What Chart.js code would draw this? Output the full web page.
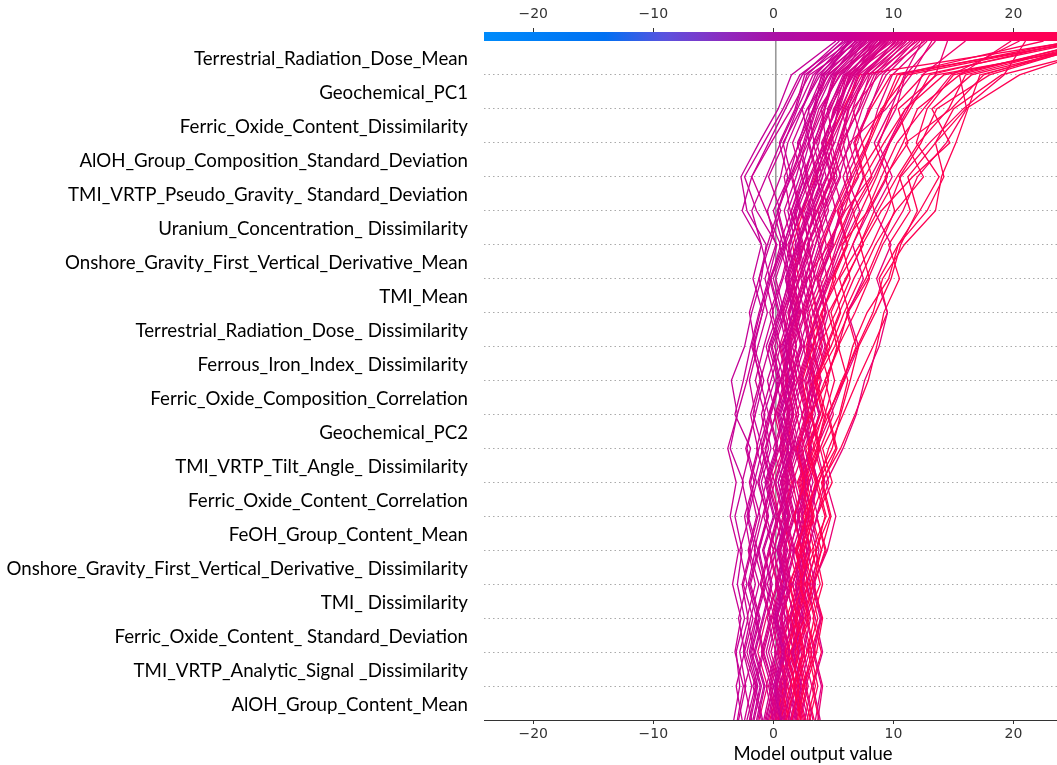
<!DOCTYPE html>
<html>
<head>
<meta charset="utf-8">
<script src="https://cdn.jsdelivr.net/npm/chart.js@4.4.1/dist/chart.umd.min.js"></script>
<style>
  html, body { margin: 0; padding: 0; background: #fff; overflow: hidden; }
  #wrap { width: 1057px; height: 765px; overflow: hidden; }
</style>
</head>
<body>
<!-- the original axis runs past the right edge of the picture, so the canvas is wider and cropped -->
<div id="wrap"><canvas id="chart" width="1142" height="765"></canvas></div>
<script>
// features, top row first (as shown)
const featureNames = [
  'Terrestrial_Radiation_Dose_Mean',
  'Geochemical_PC1',
  'Ferric_Oxide_Content_Dissimilarity',
  'AlOH_Group_Composition_Standard_Deviation',
  'TMI_VRTP_Pseudo_Gravity_ Standard_Deviation',
  'Uranium_Concentration_ Dissimilarity',
  'Onshore_Gravity_First_Vertical_Derivative_Mean',
  'TMI_Mean',
  'Terrestrial_Radiation_Dose_ Dissimilarity',
  'Ferrous_Iron_Index_ Dissimilarity',
  'Ferric_Oxide_Composition_Correlation',
  'Geochemical_PC2',
  'TMI_VRTP_Tilt_Angle_ Dissimilarity',
  'Ferric_Oxide_Content_Correlation',
  'FeOH_Group_Content_Mean',
  'Onshore_Gravity_First_Vertical_Derivative_ Dissimilarity',
  'TMI_ Dissimilarity',
  'Ferric_Oxide_Content_ Standard_Deviation',
  'TMI_VRTP_Analytic_Signal _Dissimilarity',
  'AlOH_Group_Content_Mean'
];

const baseValue = 0.2;
const axisTicks = [-20, -10, 0, 10, 20];

// cumulative model output at each feature boundary, bottom (0) to top (20)
const decisionPaths = [
  [2.0, 2.6, 1.8, 2.9, 2.2, 3.1, 2.5, 3.6, 2.9, 4.2, 3.5, 4.8, 5.9, 7.2, 8.5, 10.2, 12.5, 11.0, 14.8, 17.5, 27.0],
  [-3.3, -2.8, -3.1, -2.4, -3.0, -2.6, -3.2, -2.5, -3.6, -3.0, -3.5, -2.4, -1.8, -1.0, -0.6, -2.2, -2.7, -1.2, 0.4, 1.5, 5.2],
  [-0.8, -0.2, -1.0, -0.3, -1.1, -0.4, 0.3, -0.5, 0.4, -0.3, 0.6, 1.3, 0.7, 1.5, 2.3, 1.4, 0.9, 2.2, 3.4, 4.5, 8.0],
  [-3.0, -2.5, -3.2, -2.7, -3.4, -2.9, -3.6, -3.1, -3.8, -3.0, -2.2, -1.5, -2.0, -1.2, -0.5, 0.4, 1.2, 0.5, 1.8, 2.6, 6.5],
  [3.1, 2.4, 3.5, 2.8, 3.9, 3.2, 4.4, 3.7, 5.2, 4.5, 5.9, 6.6, 7.8, 9.6, 10.4, 12.8, 14.2, 13.5, 16.0, 20.5, 29.0],
  [0.0, -0.6, 0.2, -0.5, 0.4, -0.3, 0.5, 1.2, 0.5, 1.3, 0.7, 1.6, 2.3, 1.6, 2.6, 3.5, 2.7, 3.8, 4.3, 5.2, 9.0],
  [3.7, 4.1, 3.4, 4.0, 3.3, 4.5, 5.2, 4.4, 5.8, 6.9, 7.6, 8.8, 9.5, 8.6, 9.8, 8.4, 9.9, 8.7, 10.2, 11.0, 13.5],
  [1.1, 1.8, 1.0, 2.0, 1.3, 2.4, 3.0, 2.3, 3.3, 4.1, 3.4, 4.7, 4.0, 5.4, 6.6, 7.8, 9.0, 10.3, 12.5, 14.8, 20.5],
  [-2.6, -3.1, -2.4, -2.9, -2.2, -2.8, -2.0, -2.6, -1.9, -3.2, -2.5, -1.9, -1.2, -0.4, 0.3, -1.4, -2.4, -0.8, 0.8, 2.2, 6.0],
  [0.6, 0.0, 0.8, 0.1, 0.9, 0.3, 1.0, 0.4, 1.2, 0.5, 1.4, 0.8, 1.6, 1.0, 1.9, 1.2, 2.2, 3.0, 2.4, 3.5, 6.1],
  [0.7, 0.1, 0.9, 0.2, 1.0, 0.4, 1.2, 0.6, 1.5, 0.8, 1.7, 1.1, 2.0, 2.8, 2.1, 3.2, 4.1, 3.3, 4.6, 5.8, 7.5],
  [1.5, 2.2, 1.4, 2.6, 3.3, 2.5, 3.4, 2.8, 3.8, 3.1, 4.5, 5.3, 4.6, 6.1, 7.4, 9.0, 11.6, 14.7, 13.2, 16.5, 28.0],
  [-0.7, 0.0, -0.9, -0.2, -1.0, -0.3, 0.4, -0.4, 0.5, 1.2, 0.6, 1.5, 0.8, 1.9, 1.2, 2.4, 3.3, 4.2, 5.1, 6.0, 9.1],
  [1.4, 0.9, 1.7, 1.0, 0.4, 1.2, 0.5, 1.3, 0.7, 1.6, 1.0, 1.9, 1.3, 2.2, 3.0, 2.4, 3.6, 4.4, 5.0, 6.7, 8.6],
  [-1.8, -2.4, -1.6, -2.2, -1.5, -2.1, -1.4, -2.0, -1.3, -1.9, -1.1, -1.7, -0.9, -0.2, 0.6, -0.6, -1.8, -0.2, 1.5, 3.0, 7.2],
  [1.1, 0.5, 1.3, 0.6, 1.4, 0.8, 1.6, 0.9, 1.7, 1.1, 2.0, 1.3, 2.2, 1.6, 2.6, 3.4, 4.5, 5.6, 6.2, 7.1, 10.7],
  [0.6, 1.4, 2.1, 1.5, 2.4, 1.9, 2.8, 3.5, 2.7, 3.9, 4.6, 3.8, 5.2, 6.4, 5.7, 7.9, 9.4, 10.8, 12.0, 15.5, 26.5],
  [-1.4, -0.8, -1.6, -0.9, -0.2, -0.9, 0.0, -0.7, 0.2, 0.9, 0.2, 1.1, 0.5, 1.4, 0.8, 1.9, 2.8, 2.0, 3.3, 4.2, 6.4],
  [2.0, 1.4, 2.2, 1.5, 2.4, 3.1, 2.4, 3.3, 2.6, 3.5, 2.9, 3.8, 4.6, 3.9, 5.0, 4.2, 5.5, 6.3, 5.7, 6.8, 9.3],
  [0.3, 1.0, 0.4, 1.2, 0.6, 1.4, 2.1, 1.3, 2.2, 1.5, 2.5, 1.8, 2.7, 3.5, 2.8, 4.0, 5.3, 4.6, 5.9, 7.4, 10.2],
  [2.4, 1.7, 2.6, 2.0, 2.9, 2.3, 3.2, 2.5, 3.6, 4.3, 5.1, 4.4, 5.5, 6.7, 8.2, 9.5, 10.6, 13.0, 15.8, 19.2, 21.0],
  [-1.3, -0.7, -1.5, -0.8, -0.1, -0.8, 0.1, -0.6, 0.3, -0.4, 0.5, -0.2, 0.7, 0.0, 1.0, 0.3, 1.5, 0.8, 2.3, 3.9, 6.3],
  [2.6, 1.9, 2.8, 3.4, 2.7, 3.6, 4.3, 3.5, 4.9, 5.6, 6.4, 7.1, 8.5, 9.8, 10.6, 12.0, 11.2, 13.5, 15.0, 19.0, 30.0],
  [-0.2, 0.4, -0.4, 0.3, -0.5, 0.2, -0.6, 0.1, -0.7, 0.2, 0.9, 0.1, 1.0, 1.8, 1.0, 2.0, 3.1, 4.4, 4.0, 5.5, 8.3],
  [0.0, 0.7, 0.1, 0.8, 0.2, 1.0, 0.4, 1.1, 0.6, 1.4, 0.8, 1.6, 1.0, 1.9, 1.3, 2.3, 1.6, 2.9, 3.8, 5.6, 8.7],
  [1.9, 1.2, 2.0, 1.4, 2.2, 1.6, 2.5, 1.8, 1.2, 2.1, 1.5, 2.4, 1.7, 2.7, 3.5, 4.3, 3.6, 4.8, 5.4, 6.3, 9.8],
  [3.8, 3.2, 4.0, 3.3, 4.1, 3.5, 4.7, 4.0, 5.6, 6.8, 7.9, 8.6, 9.2, 10.5, 9.6, 11.4, 10.5, 12.3, 13.6, 18.0, 27.5],
  [2.6, 3.2, 2.5, 3.1, 2.4, 3.0, 2.3, 2.9, 2.2, 2.8, 3.6, 4.4, 3.7, 4.6, 5.5, 6.6, 5.8, 7.0, 7.9, 9.4, 12.2],
  [-2.2, -1.5, -2.4, -1.7, -2.5, -1.8, -1.1, -1.9, -1.2, -0.4, -1.1, -0.3, 0.5, -0.2, 0.9, 1.7, 2.6, 3.4, 2.9, 4.1, 6.8],
  [0.8, 1.5, 0.9, 1.7, 1.1, 0.5, 1.3, 0.6, 1.5, 0.8, 1.8, 1.2, 2.1, 1.5, 2.5, 3.6, 4.8, 5.7, 6.3, 7.9, 11.4],
  [-2.0, -1.4, -2.2, -1.5, -0.8, -1.6, -0.9, -0.2, -1.0, -0.3, 0.4, -0.4, 0.6, 1.3, 0.5, 1.5, 2.4, 1.6, 2.8, 4.6, 7.7],
  [1.0, 1.8, 1.2, 2.0, 1.4, 2.3, 1.7, 2.6, 2.0, 3.0, 2.4, 3.3, 4.1, 5.0, 6.2, 5.4, 7.0, 8.8, 9.9, 12.5, 26.0],
  [2.7, 2.0, 2.8, 2.2, 1.6, 2.4, 1.8, 2.7, 2.0, 2.9, 2.2, 3.1, 2.5, 3.5, 4.4, 3.7, 5.0, 5.9, 6.8, 8.2, 12.0],
  [1.6, 2.3, 1.7, 2.5, 1.8, 2.6, 2.0, 2.8, 2.1, 3.0, 2.3, 3.2, 2.6, 3.5, 2.9, 3.9, 4.8, 4.0, 5.3, 6.4, 8.4],
  [0.4, 1.1, 0.5, 1.4, 2.1, 1.3, 2.2, 1.6, 2.6, 1.9, 2.9, 3.6, 3.0, 4.2, 5.6, 6.8, 8.4, 9.7, 11.2, 12.4, 16.0],
  [-1.0, -1.7, -0.9, -1.5, -0.7, -1.3, -0.5, -1.2, -0.4, -1.0, -0.2, 0.6, -0.1, 0.8, 1.6, 0.9, 1.9, 2.7, 3.6, 4.9, 7.0],
  [0.3, -0.3, 0.5, -0.2, 0.6, 0.0, 0.8, 0.1, 0.9, 0.3, 1.1, 0.5, 1.4, 2.1, 3.2, 4.4, 5.6, 4.8, 6.1, 7.6, 11.0],
  [0.5, -0.2, 0.7, 0.0, 0.8, 1.5, 0.9, 1.7, 1.1, 1.9, 1.3, 2.2, 3.0, 2.3, 3.3, 2.6, 3.9, 4.7, 5.4, 6.1, 8.9],
  [2.3, 1.6, 2.5, 1.8, 2.9, 2.2, 3.3, 2.6, 3.7, 4.4, 3.6, 5.1, 6.3, 5.5, 7.2, 8.4, 7.6, 9.2, 11.0, 14.2, 28.5],
  [3.3, 2.6, 3.4, 2.7, 3.5, 2.8, 3.7, 3.0, 3.8, 3.1, 4.0, 3.3, 4.3, 3.6, 4.7, 5.8, 5.0, 6.5, 7.4, 8.6, 11.6],
  [1.7, 2.4, 1.6, 2.5, 1.9, 2.8, 2.1, 3.0, 2.3, 3.2, 2.6, 3.5, 2.8, 3.9, 4.8, 5.6, 6.5, 5.8, 7.1, 8.0, 10.8],
  [-0.6, 0.0, -0.8, -0.1, 0.7, 0.0, 0.9, 0.2, 1.0, 0.4, 1.3, 0.7, 1.7, 1.0, 2.0, 2.9, 3.7, 3.0, 4.2, 5.0, 7.8],
  [-0.5, 0.2, -0.6, 0.1, -0.7, 0.0, -0.8, -0.1, -0.9, -0.2, 0.6, -0.1, 0.9, 0.2, 1.1, 0.4, 1.4, 2.5, 3.3, 4.8, 7.4],
  [0.2, 0.9, 1.7, 1.1, 2.0, 2.8, 2.1, 3.0, 3.9, 3.2, 4.3, 5.5, 4.8, 6.0, 7.5, 6.6, 8.2, 7.4, 9.0, 11.2, 25.5],
  [2.2, 2.9, 2.3, 1.7, 2.5, 1.9, 2.8, 2.1, 3.1, 2.4, 3.4, 4.3, 3.6, 4.7, 5.8, 7.2, 6.1, 7.4, 6.6, 8.8, 12.6],
  [1.9, 2.6, 2.0, 2.7, 2.1, 2.9, 3.6, 4.3, 3.6, 4.8, 5.9, 7.1, 6.2, 7.5, 6.6, 8.0, 9.5, 8.4, 9.8, 10.9, 12.4],
  [3.0, 3.7, 3.1, 4.0, 3.4, 4.3, 3.6, 4.6, 3.9, 5.0, 4.3, 5.4, 6.2, 7.9, 9.1, 10.8, 12.0, 14.4, 16.1, 15.5, 19.8],
  [-2.9, -2.3, -2.8, -2.1, -2.6, -1.9, -2.4, -1.6, -2.3, -1.5, -2.0, -1.3, -0.5, -1.2, -0.3, 0.6, -0.4, 0.9, 2.0, 3.3, 6.6],
  [0.8, 0.2, 1.0, 0.3, 1.1, 0.5, 1.3, 0.6, 1.5, 0.8, 1.7, 1.0, 1.9, 1.2, 2.2, 1.5, 2.6, 3.4, 4.3, 5.1, 8.2],
  [0.1, 0.8, 1.4, 0.7, 1.5, 0.9, 1.8, 1.1, 2.0, 1.3, 2.3, 1.6, 2.6, 1.9, 2.9, 4.2, 5.1, 4.3, 5.6, 6.9, 9.5],
  [1.8, 2.5, 3.2, 2.4, 3.3, 4.0, 3.2, 4.2, 3.4, 4.6, 5.8, 6.9, 6.1, 7.7, 8.9, 10.1, 9.3, 11.2, 10.4, 13.6, 29.5],
  [1.0, 0.3, 1.1, 0.5, 1.3, 0.6, 1.4, 0.8, 1.6, 2.4, 1.7, 2.6, 1.9, 2.9, 3.8, 3.1, 4.4, 3.6, 4.8, 5.9, 8.1],
  [-1.7, -1.1, -1.9, -1.2, -2.0, -1.3, -2.1, -1.4, -2.2, -1.5, -0.8, -1.6, -0.9, -1.7, -1.0, -2.6, -1.8, -0.4, 1.0, 2.4, 5.5],
  [-1.6, -1.0, -1.8, -1.1, -1.9, -1.2, -0.5, -1.3, -0.6, 0.2, -0.5, 0.4, -0.3, 0.7, 1.4, 2.2, 1.5, 2.6, 3.5, 4.3, 7.3],
  [3.4, 2.7, 3.6, 4.1, 3.3, 4.4, 3.6, 4.9, 4.1, 5.5, 6.2, 5.4, 6.8, 8.0, 7.2, 8.7, 10.3, 12.1, 14.6, 16.0, 27.0],
  [1.4, 2.1, 1.5, 2.2, 2.9, 2.2, 3.0, 2.4, 3.2, 2.6, 3.4, 2.8, 3.7, 3.0, 4.0, 3.3, 4.5, 5.4, 6.3, 7.7, 10.1],
  [3.5, 4.0, 3.3, 3.9, 3.2, 3.8, 3.1, 3.7, 3.0, 3.9, 3.2, 4.1, 3.4, 4.5, 3.8, 5.0, 6.2, 5.4, 6.6, 7.5, 10.5],
  [1.6, 1.0, 1.9, 1.3, 2.2, 2.8, 2.1, 3.0, 2.4, 3.3, 2.7, 3.6, 4.4, 3.7, 4.9, 5.6, 7.1, 6.3, 9.4, 11.5, 13.2],
  [0.4, 1.1, 0.3, 1.0, 0.2, 0.9, 0.1, 0.8, 0.0, 0.9, 1.7, 0.9, 1.9, 1.1, 2.1, 3.0, 4.1, 5.0, 4.5, 6.0, 9.2],
  [2.3, 1.7, 2.4, 1.8, 2.6, 2.0, 2.8, 2.2, 3.0, 2.4, 3.3, 2.7, 3.6, 3.0, 4.0, 5.1, 6.4, 7.8, 9.1, 10.3, 22.5],
  [-0.3, 0.5, 1.3, 0.6, 1.6, 2.4, 1.7, 2.7, 2.0, 3.1, 3.9, 3.2, 4.4, 3.7, 5.1, 6.3, 7.6, 6.8, 8.1, 9.8, 26.0],
  [-0.4, 0.3, 1.0, 0.2, 1.1, 0.3, 1.2, 0.4, 1.3, 0.6, 1.5, 2.3, 1.6, 2.5, 1.8, 2.8, 3.6, 2.9, 4.0, 5.3, 8.5],
  [2.5, 1.8, 2.6, 1.9, 2.7, 2.0, 2.9, 3.6, 2.9, 3.8, 3.0, 4.0, 3.3, 4.4, 5.3, 6.4, 7.5, 6.7, 8.0, 9.1, 11.8],
  [2.8, 3.5, 2.9, 3.7, 3.0, 4.0, 4.8, 4.1, 5.3, 4.6, 5.7, 7.0, 8.3, 9.1, 10.9, 13.5, 14.0, 15.2, 16.2, 17.2, 28.0],
  [1.2, 1.9, 1.1, 1.8, 1.0, 1.7, 0.9, 1.6, 0.8, 1.7, 1.0, 1.9, 1.2, 2.1, 3.0, 2.3, 3.4, 4.6, 5.5, 6.4, 9.4],
  [-1.9, -1.3, -2.0, -1.4, -2.1, -1.5, -2.2, -1.6, -0.9, -1.7, -1.0, -1.8, -1.1, -0.3, -1.0, -1.8, -0.6, 0.6, 1.9, 2.8, 5.8],
  [-1.2, -0.5, -1.3, -0.6, 0.3, -0.4, 0.5, -0.2, 0.8, 0.1, 1.2, 0.6, 1.9, 2.8, 4.6, 6.0, 8.1, 9.6, 11.0, 13.5, 14.5],
  [0.9, 0.2, 1.0, 0.3, 1.1, 1.8, 1.0, 1.9, 1.2, 2.1, 1.4, 2.4, 1.7, 2.6, 2.0, 3.1, 2.4, 3.5, 4.7, 6.2, 10.0],
  [1.3, 0.7, 1.6, 2.3, 1.6, 2.6, 3.3, 2.5, 3.4, 2.8, 3.7, 4.5, 5.6, 4.9, 6.1, 7.3, 8.6, 9.7, 11.4, 13.0, 25.0],
  [0.5, 1.2, 0.6, 1.3, 0.7, 1.4, 0.8, 1.5, 1.0, 1.7, 1.1, 1.9, 1.3, 2.1, 1.6, 2.5, 3.5, 4.5, 5.8, 7.2, 25.2],
  [1.5, 2.2, 1.5, 2.3, 1.6, 2.4, 1.7, 2.5, 1.8, 2.7, 2.0, 2.9, 3.7, 4.8, 6.1, 5.3, 6.6, 7.9, 8.7, 9.9, 12.8],
  [-0.9, -1.5, -0.8, -1.4, -0.6, -1.2, -0.4, -1.0, -0.2, -0.8, 0.1, -0.6, 0.4, -0.3, 0.8, 0.0, 1.3, 2.1, 3.0, 4.5, 6.2],
  [3.9, 3.3, 4.1, 3.5, 2.8, 3.6, 2.9, 3.7, 3.0, 3.8, 3.1, 2.5, 3.3, 2.6, 3.5, 4.6, 3.8, 5.1, 6.0, 7.0, 9.6],
  [0.9, 1.6, 0.8, 1.7, 2.5, 1.8, 2.7, 2.0, 3.1, 2.4, 3.5, 2.9, 4.0, 5.2, 4.5, 5.9, 6.8, 8.0, 9.2, 10.6, 24.8],
  [0.2, -0.4, 0.3, 1.0, 0.3, 1.1, 0.4, 1.2, 0.5, 1.3, 0.6, 1.4, 0.8, 1.7, 2.5, 1.8, 2.9, 2.2, 3.4, 4.0, 7.6],
  [-0.1, 0.6, -0.2, 0.5, -0.3, 0.6, 1.4, 0.7, 1.6, 0.9, 1.8, 1.0, 2.0, 1.3, 2.4, 1.7, 3.0, 4.2, 5.1, 6.5, 10.4],
  [2.1, 2.8, 2.0, 3.0, 2.3, 3.4, 2.7, 3.8, 4.6, 5.8, 7.0, 8.3, 9.5, 8.8, 10.4, 12.2, 13.8, 11.9, 12.8, 15.0, 26.8],
  [2.9, 2.2, 3.0, 2.3, 3.1, 2.4, 1.8, 2.6, 1.9, 2.8, 2.1, 3.0, 2.4, 3.3, 4.1, 5.2, 4.5, 5.6, 7.2, 8.4, 11.1],
  [-2.4, -1.8, -2.5, -1.9, -1.2, -2.0, -1.3, -0.6, -1.4, -0.7, -1.5, -0.8, 0.0, -0.7, 0.2, -0.5, 0.6, 1.2, 2.4, 3.7, 6.9],
  [1.3, 0.6, 1.4, 0.7, 1.5, 0.9, 1.7, 1.0, 1.8, 1.2, 2.0, 1.4, 2.3, 3.2, 2.5, 3.7, 4.9, 4.1, 5.2, 6.6, 9.0]
];

const X_MIN = -24.1, X_MAX = 30.7;

// shap-like blue -> magenta -> red, stops in model-output units
const cmapStops = [
  [-24.1, [0, 139, 251]],
  [-14, [0, 112, 242]],
  [-9, [92, 82, 222]],
  [-4, [142, 42, 190]],
  [0, [170, 16, 166]],
  [6, [200, 0, 148]],
  [12, [228, 0, 122]],
  [18, [248, 0, 98]],
  [23.7, [255, 0, 82]]
];

function colorFor(v) {
  if (v <= cmapStops[0][0]) return 'rgb(0,139,251)';
  for (let i = 1; i < cmapStops.length; i++) {
    const [v1, c1] = cmapStops[i];
    const [v0, c0] = cmapStops[i - 1];
    if (v <= v1) {
      const f = (v - v0) / (v1 - v0);
      const c = c0.map((a, j) => Math.round(a + (c1[j] - a) * f));
      return `rgb(${c[0]},${c[1]},${c[2]})`;
    }
  }
  return 'rgb(255,0,82)';
}

/* ---------- COLORBAR PLUGIN ---------- */
const colorBarPlugin = {
  id: 'colorBar',
  afterDraw(chart) {
    const { ctx, chartArea } = chart;
    const xs = chart.scales.x;
    const grad = ctx.createLinearGradient(chartArea.left, 0, chartArea.right, 0);
    const n = 60;
    for (let i = 0; i <= n; i++) {
      const v = xs.getValueForPixel(chartArea.left + (chartArea.right - chartArea.left) * i / n);
      grad.addColorStop(i / n, colorFor(v));
    }
    ctx.save();
    ctx.fillStyle = grad;
    ctx.fillRect(chartArea.left, chartArea.top - 9, chartArea.right - chartArea.left, 9);
    ctx.restore();
  }
};

const tickFmt = v => v < 0 ? '\u2212' + Math.abs(v) : String(v);
const tickFont = { family: 'DejaVu Sans', size: 14 };

const datasets = decisionPaths.map(p => ({
  data: p.map((x, k) => ({ x, y: k })),
  borderColor: colorFor(p[p.length - 1]),
  borderWidth: 1.3,
  pointRadius: 0,
  showLine: true,
  fill: false
}));

datasets.push({
  data: [{ x: baseValue, y: 0 }, { x: baseValue, y: 20 }],
  borderColor: '#999999',
  borderWidth: 1.6,
  pointRadius: 0,
  showLine: true,
  order: 1
});

new Chart(document.getElementById('chart'), {
  type: 'scatter',
  plugins: [colorBarPlugin],
  data: { datasets },
  options: {
    responsive: false,
    animation: false,
    devicePixelRatio: 1,
    layout: { padding: 0 },
    plugins: { legend: { display: false }, tooltip: { enabled: false } },
    scales: {
      x: {
        type: 'linear', position: 'bottom', min: X_MIN, max: X_MAX,
        afterBuildTicks: s => { s.ticks = axisTicks.map(value => ({ value })); },
        afterFit: s => { s.height = 45; },
        grid: { drawOnChartArea: false, tickLength: 4, tickColor: '#333', tickWidth: 1 },
        border: { color: '#333', width: 1 },
        ticks: { callback: tickFmt, font: tickFont, color: '#333', padding: 2, maxRotation: 0 },
        title: { display: true, text: 'Model output value', font: { family: 'Lato', size: 18.5 }, color: '#000', padding: { top: 0, bottom: 0 } }
      },
      x2: {
        type: 'linear', position: 'top', min: X_MIN, max: X_MAX,
        afterBuildTicks: s => { s.ticks = axisTicks.map(value => ({ value })); },
        afterFit: s => { s.height = 41; },
        grid: { drawOnChartArea: false, tickLength: 13, tickColor: '#333', tickWidth: 1 },
        border: { display: false },
        ticks: { callback: tickFmt, font: tickFont, color: '#333', padding: 5, maxRotation: 0 }
      },
      y: {
        type: 'linear', min: 0, max: 20,
        afterBuildTicks: s => { s.ticks = Array.from({ length: 21 }, (_, k) => ({ value: k })); },
        afterFit: s => { s.width = 484; },
        grid: {
          drawTicks: false,
          color: c => (c.tick.value === 0 || c.tick.value === 20) ? 'rgba(0,0,0,0)' : '#aaaaaa',
          lineWidth: 1
        },
        border: { display: false, dash: [1.5, 3] },
        ticks: {
          autoSkip: false,
          callback: v => v < 20 ? featureNames[19 - v] : '',
          labelOffset: -15.5,
          padding: 16,
          font: { family: 'Lato', size: 18.7 },
          color: '#000'
        }
      }
    }
  }
});
</script>
</body>
</html>
